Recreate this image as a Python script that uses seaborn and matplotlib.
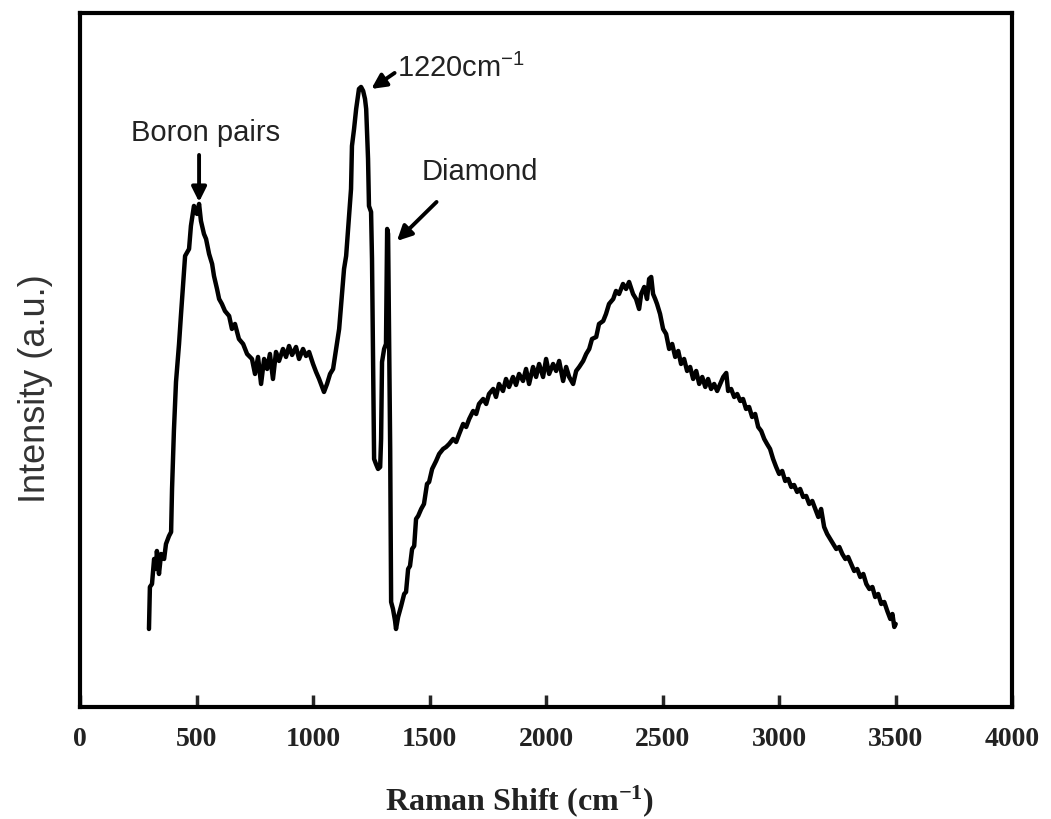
import matplotlib
matplotlib.use('Agg')
import matplotlib.pyplot as plt
import seaborn as sns
import pandas as pd

# Raman spectrum (wavenumber in cm-1, intensity in arbitrary units)
shift = [296, 300, 309, 318, 326, 330, 339, 348, 361, 369, 382, 391, 395, 403, 412, 425, 433, 451, 468, 476,
         489, 502, 511, 519, 532, 541, 554, 567, 575, 588, 597, 609, 622, 640, 652, 665, 682, 700, 717, 738,
         751, 764, 777, 790, 803, 815, 828, 841, 854, 871, 884, 897, 910, 927, 940, 957, 970, 983, 1000, 1013,
         1026, 1039, 1047, 1060, 1073, 1086, 1099, 1112, 1125, 1133, 1142, 1155, 1163, 1167, 1176, 1185, 1197,
         1206, 1215, 1223, 1228, 1236, 1240, 1249, 1253, 1257, 1262, 1270, 1279, 1288, 1292, 1296, 1305, 1313,
         1318, 1322, 1326, 1331, 1335, 1343, 1352, 1356, 1365, 1378, 1391, 1399, 1408, 1416, 1425, 1434, 1442,
         1451, 1464, 1476, 1489, 1498, 1511, 1528, 1541, 1558, 1571, 1584, 1601, 1614, 1627, 1644, 1657, 1670,
         1687, 1700, 1712, 1730, 1743, 1755, 1773, 1785, 1798, 1815, 1828, 1841, 1858, 1871, 1884, 1901, 1914,
         1927, 1944, 1957, 1970, 1987, 2000, 2013, 2030, 2043, 2056, 2073, 2086, 2099, 2116, 2129, 2142, 2159,
         2172, 2185, 2197, 2215, 2227, 2245, 2257, 2270, 2288, 2300, 2313, 2330, 2343, 2356, 2373, 2386, 2399,
         2408, 2421, 2433, 2442, 2451, 2459, 2468, 2476, 2489, 2502, 2515, 2528, 2541, 2554, 2567, 2579, 2592,
         2605, 2618, 2631, 2644, 2657, 2670, 2683, 2695, 2708, 2721, 2734, 2747, 2760, 2773, 2781, 2794, 2807,
         2820, 2833, 2845, 2858, 2871, 2884, 2897, 2910, 2923, 2936, 2948, 2961, 2974, 2987, 3000, 3013, 3026,
         3039, 3052, 3064, 3077, 3090, 3103, 3116, 3129, 3142, 3155, 3168, 3180, 3193, 3206, 3219, 3232, 3245,
         3258, 3271, 3284, 3296, 3309, 3322, 3335, 3348, 3361, 3374, 3387, 3400, 3412, 3425, 3438, 3451, 3464,
         3477, 3486, 3494, 3500]
intensity = [78, 120, 123, 148, 138, 156, 133, 153, 148, 163, 171, 175, 218, 276, 325, 363, 391, 451, 458, 481,
             501, 493, 503, 486, 473, 468, 453, 443, 431, 418, 408, 403, 396, 391, 378, 383, 368, 363, 353, 348,
             333, 350, 323, 348, 338, 353, 328, 355, 346, 358, 350, 361, 352, 360, 348, 358, 351, 355, 343, 335,
             328, 320, 315, 323, 333, 338, 358, 378, 415, 438, 451, 493, 518, 561, 578, 598, 618,
             620, 616, 608, 598, 548, 501, 495, 448, 358, 248, 243, 238, 240, 268, 345, 358, 363,
             478, 473, 378, 258, 105, 98, 86, 78, 90, 101, 113, 115, 138, 141, 158, 161, 188,
             191, 198, 203, 223, 225, 238, 246, 253, 258, 260, 263, 268, 265, 273, 283, 280, 288,
             296, 293, 303, 308, 303, 313, 318, 310, 323, 316, 328, 320, 330, 322, 333, 326, 338,
             323, 340, 330, 343, 330, 348, 333, 343, 336, 346, 326, 340, 330, 323, 336, 340, 346,
             353, 358, 368, 370, 383, 386, 393, 403, 408, 416, 413, 423, 418, 425, 413, 408, 398,
             413, 420, 408, 428, 430, 413, 408, 403, 393, 378, 373, 358, 363, 350, 356, 343, 348,
             336, 340, 328, 336, 323, 330, 320, 328, 318, 323, 316, 323, 330, 334, 316, 318, 310,
             313, 306, 308, 298, 300, 290, 293, 280, 276, 268, 263, 258, 248, 240, 233, 236, 226,
             228, 220, 222, 215, 218, 210, 211, 203, 206, 198, 190, 198, 180, 173, 168, 163, 158,
             160, 153, 148, 150, 143, 136, 138, 130, 133, 123, 118, 120, 110, 113, 103, 105, 96,
             88, 93, 80, 83]

spectrum = pd.DataFrame({'shift': shift, 'intensity': intensity})

sns.set_style('white')
plt.rcParams['mathtext.default'] = 'regular'

fig = plt.figure(figsize=(10.51, 8.2), dpi=100)
ax = fig.add_axes([0.0761, 0.1366, 0.887, 0.8464])

sns.lineplot(data=spectrum, x='shift', y='intensity', ax=ax, color='black',
             linewidth=3.2, sort=False, estimator=None)

ax.set_xlim(0, 4000)
ax.set_ylim(0, 694)
ax.set_xticks(range(0, 4001, 500))
ax.set_yticks([])
for s in ax.spines.values():
    s.set_linewidth(3)
    s.set_color('black')
ax.tick_params(axis='x', direction='in', length=9, width=2.5, pad=14, bottom=True)
for lab in ax.get_xticklabels():
    lab.set_fontfamily('Liberation Serif')
    lab.set_fontweight('bold')
    lab.set_fontsize(20)
    lab.set_color('#222222')

ax.set_xlabel('Raman Shift (cm$^{-1}$)', fontfamily='Liberation Serif', fontweight='bold',
              fontsize=23, color='#222222')
ax.xaxis.set_label_coords(0.472, -0.108)
ax.set_ylabel('Intensity (a.u.)', fontfamily='Liberation Sans', fontsize=26, color='#333333')
ax.yaxis.set_label_coords(-0.029, 0.46)

arrow = dict(arrowstyle='-|>', color='black', lw=2.8, mutation_scale=22, shrinkA=0, shrinkB=0)
note = dict(fontfamily='Liberation Sans', fontsize=21, color='#222222')

ax.text(537, 575, 'Boron pairs', ha='center', va='center', **note)
ax.annotate('', xy=(511, 505), xytext=(511, 552), arrowprops=arrow)

ax.text(1360, 640, '1220cm$^{-1}$', ha='left', va='center', **note)
ax.annotate('', xy=(1250, 618), xytext=(1350, 634), arrowprops=arrow)

ax.text(1468, 536, 'Diamond', ha='left', va='center', **note)
ax.annotate('', xy=(1360, 466), xytext=(1530, 505), arrowprops=arrow)

fig.savefig('out.png', dpi=100)
